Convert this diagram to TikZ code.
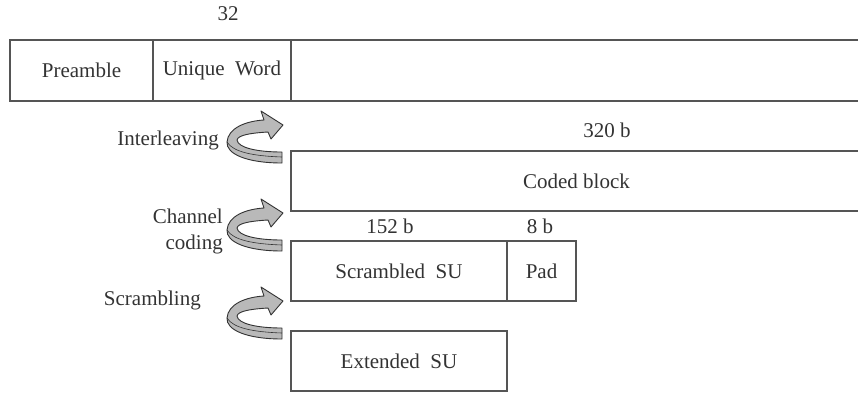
\documentclass[tikz,border=0pt]{standalone}
\usepackage{fontspec}
\setmainfont{Liberation Serif}
\usepackage{tikz}
\definecolor{edge}{HTML}{555555}
\definecolor{ink}{HTML}{333333}
\tikzset{
  field/.style={draw=edge, line width=1.6pt, inner sep=0pt, minimum height=60pt, text=ink},
  lbl/.style={inner sep=0pt, text=ink},
  bendarrow/.style={draw=ink, line width=0.9pt, fill=gray!55, line join=round},
}
% curved step arrow, (#1) is the tip
\def\bendarrow(#1){
  \begin{scope}[shift={(#1)}]
    \draw[bendarrow] (-1,38) .. controls (-36,38) and (-57,29) .. (-56,17)
      .. controls (-55,3) and (-37,-4) .. (-19,-5) -- (-22,-14) -- (0,0)
      -- (-12,14) -- (-15,7) .. controls (-32,8) and (-45,10) .. (-46,15)
      .. controls (-45,23) and (-25,27) .. (-1,27) -- cycle;
    \draw[ink, line width=0.6pt] (-56,17) .. controls (-50,27) and (-30,31) .. (-1,32);
  \end{scope}
}

\begin{document}
\begin{tikzpicture}[x=1pt, y=-1pt, font=\fontsize{21}{26}\selectfont]
  \useasboundingbox (0,0) rectangle (858,392);

  %%%%% frame %%%%%
  \node[field, minimum width=143pt, minimum height=61pt] (pre) at (81.5,70.5) {Preamble};
  \node[field, minimum width=138pt, minimum height=61pt] (uw) at (222,70.5) {Unique~~Word};
  \node[field, minimum width=571pt, minimum height=61pt] (rest) at (576.5,70.5) {};
  \node[lbl] (len32) at (228,14) {32};

  %%%%% coded block %%%%%
  \node[field, minimum width=571pt] (coded) at (576.5,181) {Coded block};
  \node[lbl] (len320) at (607,130) {320 b};

  %%%%% scrambled + pad %%%%%
  \node[field, minimum width=216pt] (scr) at (399,271) {Scrambled~~SU};
  \node[field, minimum width=69pt] (pad) at (541.5,271) {Pad};
  \node[lbl] (len152) at (390,226) {152 b};
  \node[lbl] (len8) at (540,226) {8 b};

  %%%%% extended %%%%%
  \node[field, minimum width=216pt] (ext) at (399,361) {Extended~~SU};

  %%%%% steps %%%%%
  \node[lbl, anchor=east] (intl) at (219,140) {Interleaving};
  \node[lbl, anchor=east, align=right] (chc) at (223,231) {Channel\\coding};
  \node[lbl, anchor=east] (scrm) at (201,300) {Scrambling};

  \bendarrow(283,125)
  \bendarrow(283,213)
  \bendarrow(283,301)
\end{tikzpicture}
\end{document}
